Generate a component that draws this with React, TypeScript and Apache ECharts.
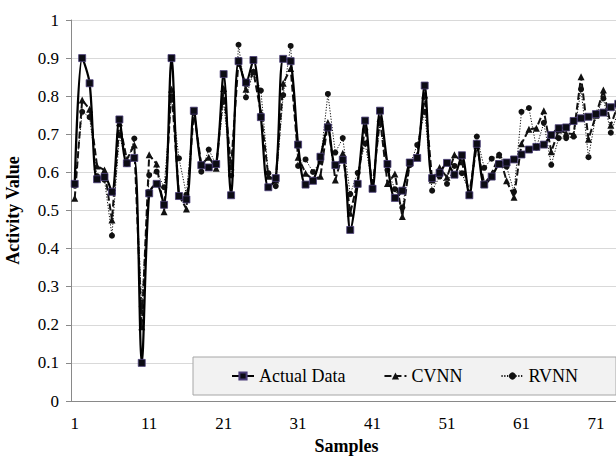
import React, { useEffect, useRef } from "react";
import * as echarts from "echarts";

const categories: string[] = Array.from({ length: 74 }, (_, i) => String(i + 1));

const actualData: number[] = [
  0.57, 0.9, 0.834, 0.582, 0.588, 0.549, 0.739, 0.624, 0.638, 0.1,
  0.545, 0.57, 0.515, 0.9, 0.538, 0.529, 0.762, 0.619, 0.613, 0.622,
  0.858, 0.54, 0.892, 0.836, 0.895, 0.745, 0.561, 0.585, 0.898, 0.892,
  0.673, 0.568, 0.578, 0.641, 0.718, 0.619, 0.633, 0.449, 0.57, 0.736,
  0.557, 0.762, 0.622, 0.533, 0.552, 0.626, 0.638, 0.828, 0.585, 0.599,
  0.625, 0.594, 0.645, 0.54, 0.675, 0.568, 0.589, 0.622, 0.626, 0.634,
  0.647, 0.66, 0.667, 0.673, 0.698, 0.716, 0.718, 0.735, 0.742, 0.746,
  0.753, 0.757, 0.771, 0.78,
];

const cvnnData: number[] = [
  0.532, 0.79, 0.766, 0.617, 0.606, 0.475, 0.73, 0.634, 0.672, 0.195,
  0.646, 0.622, 0.497, 0.818, 0.54, 0.504, 0.76, 0.62, 0.64, 0.611,
  0.82, 0.615, 0.895, 0.818, 0.864, 0.757, 0.59, 0.58, 0.834, 0.873,
  0.64, 0.598, 0.58, 0.59, 0.731, 0.58, 0.65, 0.493, 0.575, 0.72,
  0.56, 0.742, 0.571, 0.596, 0.484, 0.625, 0.645, 0.803, 0.58, 0.613,
  0.587, 0.646, 0.628, 0.545, 0.67, 0.57, 0.596, 0.646, 0.578, 0.535,
  0.675, 0.713, 0.716, 0.762, 0.654, 0.711, 0.703, 0.7, 0.851, 0.687,
  0.75, 0.816, 0.724, 0.78,
];

const rvnnData: number[] = [
  0.565, 0.759, 0.745, 0.59, 0.58, 0.434, 0.698, 0.622, 0.689, 0.248,
  0.593, 0.602, 0.561, 0.8, 0.637, 0.542, 0.76, 0.602, 0.66, 0.62,
  0.786, 0.592, 0.935, 0.797, 0.864, 0.815, 0.598, 0.564, 0.803, 0.932,
  0.617, 0.634, 0.601, 0.628, 0.806, 0.652, 0.69, 0.543, 0.599, 0.676,
  0.562, 0.729, 0.606, 0.556, 0.508, 0.619, 0.672, 0.759, 0.552, 0.589,
  0.57, 0.617, 0.598, 0.545, 0.694, 0.612, 0.636, 0.646, 0.615, 0.549,
  0.759, 0.769, 0.665, 0.73, 0.62, 0.69, 0.69, 0.694, 0.818, 0.64,
  0.75, 0.794, 0.704, 0.76,
];

const FONT = "Liberation Serif";

export default function App() {
  const ref = useRef<HTMLDivElement>(null);
  useEffect(() => {
    if (!ref.current) return;
    const chart = echarts.init(ref.current, undefined, { renderer: "svg" });
    chart.setOption({
      animation: false,
      backgroundColor: "#ffffff",
      textStyle: { fontFamily: FONT },
      grid: { left: 71, top: 20, right: 18, bottom: 55, containLabel: false, outerBoundsMode: "none" },
      legend: {
        data: ["Actual Data", "CVNN", "RVNN"],
        left: 193,
        top: 357,
        orient: "horizontal",
        padding: [10, 38, 10, 38],
        itemGap: 38,
        itemWidth: 22,
        itemHeight: 9,
        backgroundColor: "#f2f2f2",
        borderColor: "#a6a6a6",
        borderWidth: 1,
        borderRadius: 0,
        textStyle: { fontFamily: FONT, fontSize: 18, color: "#000" },
      },
      xAxis: {
        type: "category",
        data: categories,
        boundaryGap: true,
        name: "Samples",
        nameLocation: "middle",
        nameGap: 36,
        nameTextStyle: { fontFamily: FONT, fontSize: 18, fontWeight: "bold", color: "#000" },
        axisLine: { show: true, lineStyle: { color: "#898989", width: 1 } },
        axisTick: { show: false },
        axisLabel: { interval: 9, margin: 14, fontFamily: FONT, fontSize: 17, color: "#000" },
        splitLine: { show: false },
      },
      yAxis: {
        type: "value",
        min: 0,
        max: 1,
        interval: 0.1,
        name: "Activity Value",
        nameLocation: "middle",
        nameRotate: 90,
        nameGap: 49,
        nameTextStyle: { fontFamily: FONT, fontSize: 18, fontWeight: "bold", color: "#000" },
        axisLine: { show: true, lineStyle: { color: "#898989", width: 1 } },
        axisTick: { show: true, inside: false, length: 5, lineStyle: { color: "#898989" } },
        axisLabel: { margin: 12, fontFamily: FONT, fontSize: 17, color: "#000" },
        splitLine: { show: true, lineStyle: { color: "#d9d9d9", width: 1 } },
      },
      series: [
        {
          name: "RVNN",
          type: "line",
          data: rvnnData,
          symbol: "circle",
          symbolSize: 6,
          showAllSymbol: true,
          lineStyle: { color: "#111", width: 1, type: [1.2, 1.6] },
          itemStyle: { color: "#111", borderColor: "#111", borderWidth: 0 },
          z: 2,
        },
        {
          name: "CVNN",
          type: "line",
          data: cvnnData,
          symbol: "triangle",
          symbolSize: 7,
          showAllSymbol: true,
          lineStyle: { color: "#111", width: 2, type: [7, 3] },
          itemStyle: { color: "#111", borderColor: "#111", borderWidth: 0 },
          z: 3,
        },
        {
          name: "Actual Data",
          type: "line",
          data: actualData,
          symbol: "rect",
          symbolSize: 7,
          showAllSymbol: true,
          smooth: 0.3,
          lineStyle: { color: "#000", width: 2.25, type: "solid" },
          itemStyle: { color: "#0c0c14", borderColor: "#4a3d78", borderWidth: 0.8 },
          z: 4,
        },
      ],
    });
    return () => chart.dispose();
  }, []);
  return (
    <div
      style={{
        position: "fixed",
        left: 0,
        top: 0,
        width: 616,
        height: 456,
        overflow: "hidden",
        background: "#fff",
      }}
    >
      <div ref={ref} style={{ width: 640, height: 456 }} />
    </div>
  );
}
